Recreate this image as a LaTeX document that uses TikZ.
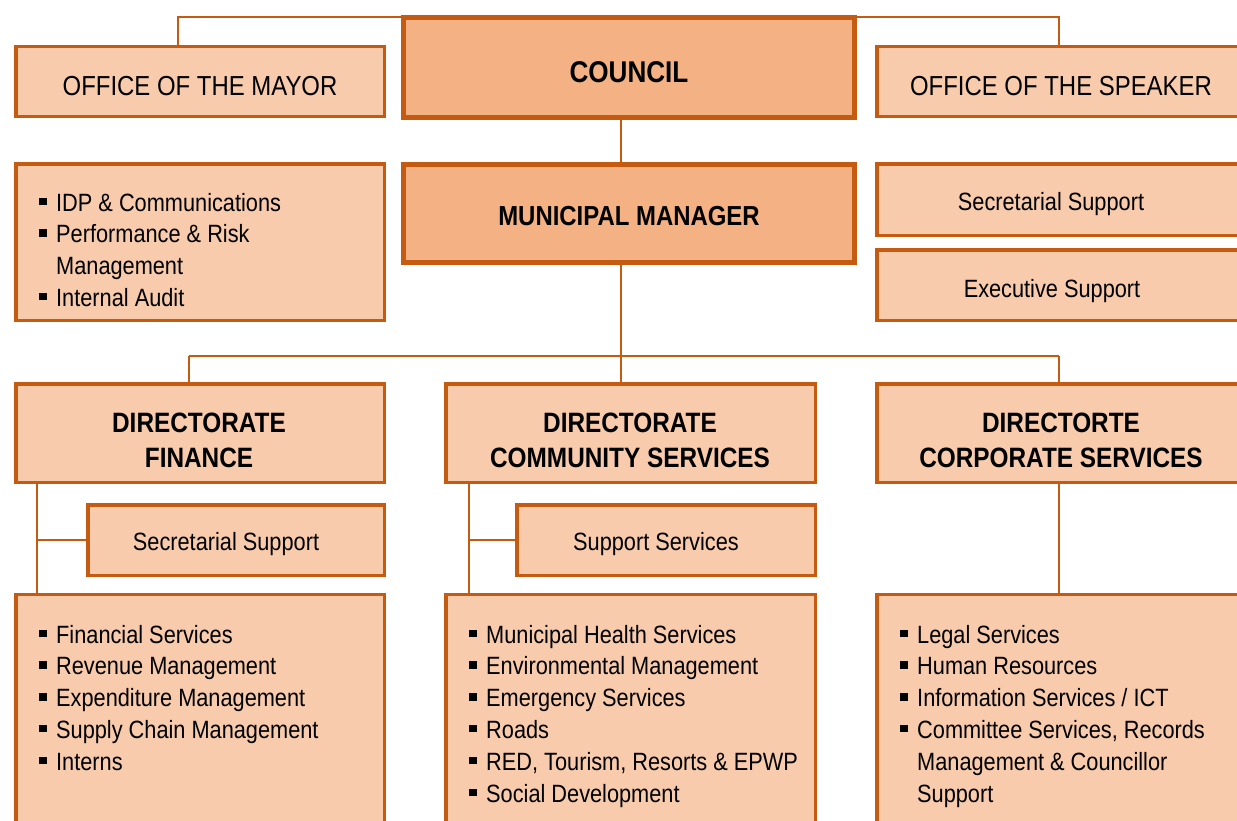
\documentclass[tikz,border=0pt]{standalone}
\usepackage{fontspec}
\setmainfont{Liberation Sans}[FakeStretch=0.87]
\definecolor{bord}{HTML}{C55A11}
\definecolor{lite}{HTML}{F7CBAC}
\definecolor{dark}{HTML}{F4B183}
\newcommand{\bul}{\makebox[17pt][l]{\raisebox{6pt}{\rule{7.5pt}{7.5pt}}}}
\begin{document}
\begin{tikzpicture}[x=1pt,y=-1pt,
 box/.style={draw=bord, fill=lite, line width=3.5pt, inner sep=0pt},
 topbox/.style={draw=bord, fill=dark, line width=5pt, inner sep=0pt},
 conn/.style={draw=bord, line width=2.5pt},
 ttl/.style={font=\fontsize{27.5}{33}\selectfont, inner sep=0pt, anchor=base},
 hd/.style={font=\fontsize{28}{35}\selectfont\bfseries, inner sep=0pt, align=center},
 sm/.style={font=\fontsize{25}{32}\selectfont, inner sep=0pt, anchor=base},
 lst/.style={font=\fontsize{25}{31.8}\selectfont, inner sep=0pt, anchor=base west}]
\useasboundingbox (0,0) rectangle (1237,820);
\clip (0,0) rectangle (1237,820);

% boxes
\node[box, minimum width=368.5pt, minimum height=70pt] (mayor) at (200,81.5) {};
\node[topbox, minimum width=451pt, minimum height=100pt] (council) at (629,67.5) {};
\node[box, minimum width=368.5pt, minimum height=70pt] (speaker) at (1061,81.5) {};
\node[box, minimum width=368.5pt, minimum height=156.5pt] (mmlist) at (200,242) {};
\node[topbox, minimum width=451pt, minimum height=98pt] (mm) at (629,213.5) {};
\node[box, minimum width=368.5pt, minimum height=71.5pt] (spsec) at (1061,199.5) {};
\node[box, minimum width=368.5pt, minimum height=70.5pt] (spexe) at (1061,285) {};
\node[box, minimum width=368.5pt, minimum height=98.5pt] (fin) at (200,433) {};
\node[box, minimum width=369.5pt, minimum height=98.5pt] (com) at (630.5,433) {};
\node[box, minimum width=368.5pt, minimum height=98.5pt] (corp) at (1061,433) {};
\node[box, minimum width=296.5pt, minimum height=70.5pt] (finsec) at (236,540) {};
\node[box, minimum width=298.5pt, minimum height=70.5pt] (comsup) at (666,540) {};
\node[box, minimum width=368.5pt, minimum height=264pt] (finlist) at (200,726.5) {};
\node[box, minimum width=369.5pt, minimum height=264pt] (comlist) at (630.5,726.5) {};
\node[box, minimum width=368.5pt, minimum height=264pt] (corplist) at (1061,726.5) {};

% texts
\node[ttl] (mayorT) at (200,95) {OFFICE OF THE MAYOR};
\node[ttl] (speakerT) at (1061,95) {OFFICE OF THE SPEAKER};
\node[hd, font=\fontsize{30}{35}\selectfont\bfseries, anchor=base] (councilT) at (629,82) {COUNCIL};
\node[hd, font=\fontsize{27.5}{35}\selectfont\bfseries, anchor=base] (mmT) at (629,225) {MUNICIPAL MANAGER};
\node[sm] (spsecT) at (1051,210) {Secretarial Support};
\node[sm] (spexeT) at (1052,297) {Executive Support};
\node[hd] (finT) at (199,440.5) {DIRECTORATE\\FINANCE};
\node[hd] (comT) at (630,440.5) {DIRECTORATE\\COMMUNITY SERVICES};
\node[hd] (corpT) at (1061,440.5) {DIRECTORTE\\CORPORATE SERVICES};
\node[sm] (finsecT) at (226,550) {Secretarial Support};
\node[sm] (comsupT) at (656,550) {Support Services};

\node[lst] (mmlistT) at (39,211) {\begin{tabular}[t]{@{}l@{}l@{}}
\bul & IDP \& Communications\\
\bul & Performance \& Risk\\
 & Management\\
\bul & Internal Audit\end{tabular}};
\node[lst] (finlistT) at (39,643) {\begin{tabular}[t]{@{}l@{}l@{}}
\bul & Financial Services\\
\bul & Revenue Management\\
\bul & Expenditure Management\\
\bul & Supply Chain Management\\
\bul & Interns\end{tabular}};
\node[lst] (comlistT) at (469,643) {\begin{tabular}[t]{@{}l@{}l@{}}
\bul & Municipal Health Services\\
\bul & Environmental Management\\
\bul & Emergency Services\\
\bul & Roads\\
\bul & RED, Tourism, Resorts \& EPWP\\
\bul & Social Development\end{tabular}};
\node[lst] (corplistT) at (900,643) {\begin{tabular}[t]{@{}l@{}l@{}}
\bul & Legal Services\\
\bul & Human Resources\\
\bul & Information Services / ICT\\
\bul & Committee Services, Records\\
 & Management \& Councillor\\
 & Support\end{tabular}};

% connectors
\coordinate (cm) at (178,17);
\coordinate (cs) at (1059,17);
\coordinate (bus) at (621,356);
\coordinate (busL) at (189,356);
\coordinate (busR) at (1059,356);
\coordinate (fv) at (37,537);
\coordinate (cv) at (469,537);

\draw[conn] (mayor.north -| cm) -- (cm) -- (cs) -- (speaker.north -| cs);
\draw[conn] (council.south -| bus) -- (mm.north -| bus);
\draw[conn] (mm.south -| bus) -- (bus);
\draw[conn] (busL) -- (busR);
\draw[conn] (busL) -- (fin.north -| busL);
\draw[conn] (bus) -- (com.north -| bus);
\draw[conn] (busR) -- (corp.north -| busR);
\draw[conn] (fin.south -| fv) -- (finlist.north -| fv);
\draw[conn] (fv |- finsec.west) -- (finsec.west);
\draw[conn] (com.south -| cv) -- (comlist.north -| cv);
\draw[conn] (cv |- comsup.west) -- (comsup.west);
\draw[conn] (corp.south -| busR) -- (corplist.north -| busR);
\end{tikzpicture}
\end{document}
